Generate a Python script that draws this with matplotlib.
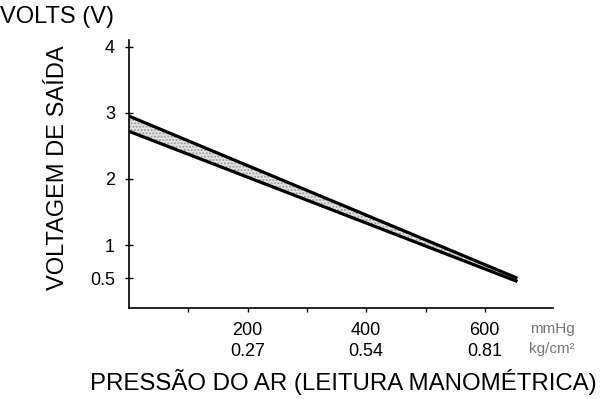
# Output voltage vs air pressure band (sensor calibration)

import numpy as np
import matplotlib.pyplot as plt

plt.rcParams['font.family'] = ['Liberation Sans', 'DejaVu Sans']

# pressure readings, mmHg
pressure = np.array([0, 655])
# band limits of the output voltage, V
volt_upper = np.array([2.95, 0.50])
volt_lower = np.array([2.72, 0.45])

yticks = [0.5, 1, 2, 3, 4]
xticks = [100, 200, 300, 400, 500, 600]
xlabels_mmhg = ['', '200', '', '400', '', '600']
xlabels_kg = ['', '0.27', '', '0.54', '', '0.81']

fig = plt.figure(figsize=(6.06, 3.99), dpi=100)
ax = fig.add_axes([129/606, 1 - 308/399, (553-129)/606, (308-40)/399])

ax.fill_between(pressure, volt_lower, volt_upper, facecolor='#e4e4e4',
                edgecolor='#9a9a9a', hatch='.....', linewidth=0)
ax.plot(pressure, volt_upper, color='black', lw=2.3, solid_capstyle='butt')
ax.plot(pressure, volt_lower, color='black', lw=2.3, solid_capstyle='butt')

ax.set_xlim(0, 715)
ax.set_ylim(0.05, 4.1)
ax.spines['top'].set_visible(False)
ax.spines['right'].set_visible(False)
ax.spines['left'].set_linewidth(1.2)
ax.spines['bottom'].set_linewidth(1.2)

ax.set_yticks(yticks)
ax.set_yticklabels(['0.5', '1', '2', '3', '4'])
ax.tick_params(axis='y', direction='inout', length=6, width=1, pad=7, labelsize=13)

ax.set_xticks(xticks)
ax.set_xticklabels([a + '\n' + b if a else '' for a, b in zip(xlabels_mmhg, xlabels_kg)],
                   linespacing=1.3)
ax.tick_params(axis='x', direction='out', length=3, width=1, pad=7, labelsize=13)

# units beside the last tick
fig.text(552/606, 1 - 329/399, 'mmHg', fontsize=11,
         color='#777777', ha='center', va='center')
fig.text(552/606, 1 - 349/399, 'kg/cm²', fontsize=11,
         color='#777777', ha='center', va='center')

fig.text(0, 1 - 17/399, 'VOLTS (V)', fontsize=17, ha='left', va='center')
fig.text(58/606, 1 - 168/399, 'VOLTAGEM DE SAÍDA', fontsize=17, rotation=90,
         ha='center', va='center')
fig.text(343/606, 1 - 382/399, 'PRESSÃO DO AR (LEITURA MANOMÉTRICA)', fontsize=17.3,
         ha='center', va='center')

fig.savefig('out.png', dpi=100)
